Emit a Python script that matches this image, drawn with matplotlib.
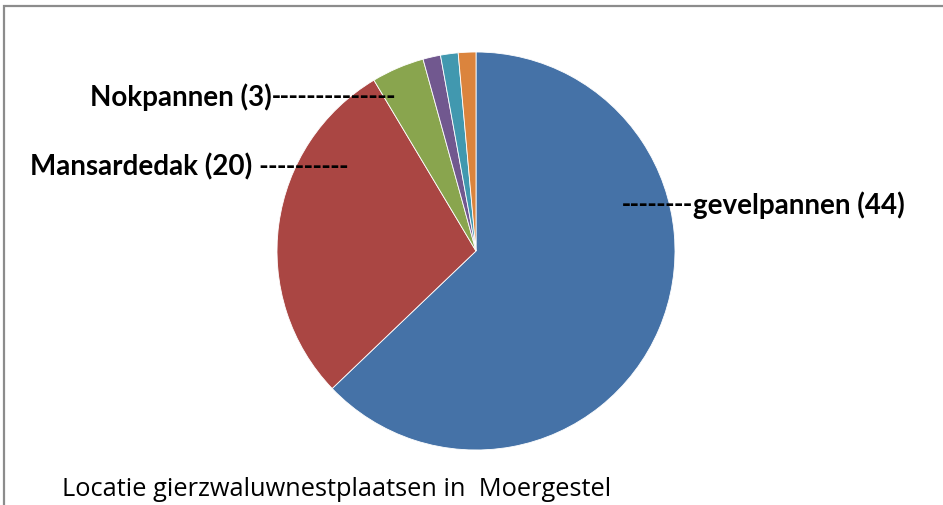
import matplotlib
matplotlib.use("Agg")
from matplotlib import pyplot as plt
from matplotlib.patches import Rectangle

# data
names = ['gevelpannen', 'Mansardedak', 'Nokpannen', 'overig 1', 'overig 2', 'overig 3']
counts = [44, 20, 3, 1, 1, 1]
colors = ['#4572A7', '#AA4643', '#89A54E', '#71588F', '#4198AF', '#DB843D']
title = 'Locatie gierzwaluwnestplaatsen in  Moergestel'

W, H = 943, 506
fig = plt.figure(figsize=(W / 100, H / 100), dpi=100)

# grey frame (only top and left visible)
fig.patches.append(Rectangle((4 / W, -0.1), 1.2, 1 - 7 / H + 0.1, transform=fig.transFigure,
                             fill=False, edgecolor='#8c8c8c', linewidth=1.6))

cx, cy, r = 476, 252, 199
ax = fig.add_axes([(cx - r) / W, (H - cy - r) / H, 2 * r / W, 2 * r / H])
ax.pie(counts, colors=colors, startangle=90, counterclock=False,
       wedgeprops=dict(edgecolor='white', linewidth=0.6))
ax.set_xlim(-1, 1)
ax.set_ylim(-1, 1)
ax.set_aspect('equal')
ax.axis('off')

renderer = fig.canvas.get_renderer()
base = dict(fontweight='bold', color='black', va='center', ha='left', transform=fig.transFigure)
name_font = ['Lato', 'DejaVu Sans']
dash_font = ['DejaVu Sans']


def label(x, y, name, dashes, dash_first=False):
    # name in large bold, dashes thick and narrow like the leader in the original
    y = 1 - y / H
    if dash_first:
        t = fig.text(x / W, y, dashes, family=dash_font, fontsize=15.5, **base)
        x1 = t.get_window_extent(renderer).x1
        fig.text(x1 / W, y, name, family=name_font, fontsize=20, **base)
    else:
        t = fig.text(x / W, y, name, family=name_font, fontsize=20, **base)
        x1 = t.get_window_extent(renderer).x1
        fig.text(x1 / W, y, dashes, family=dash_font, fontsize=15.5, **base)


label(90, 97, f'{names[2]} ({counts[2]})', '-' * 14)
label(30, 167, f'{names[1]} ({counts[1]})', ' ' + '-' * 10)
label(622, 205, f'{names[0]} ({counts[0]})', '-' * 8, dash_first=True)

fig.text(62 / W, 1 - 490 / H, title, family=['Open Sans', 'DejaVu Sans'],
         fontsize=18.3, ha='left', va='center', color='black')

fig.savefig('out.png', dpi=100)
